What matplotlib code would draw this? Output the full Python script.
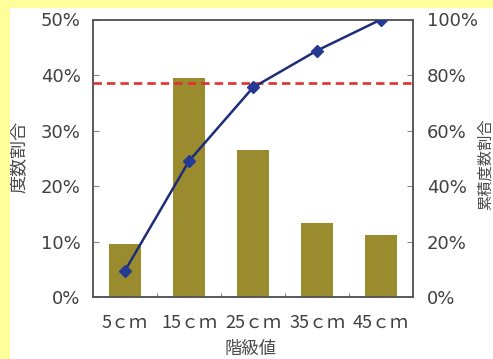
import matplotlib
matplotlib.use("Agg")
import matplotlib.pyplot as plt
from matplotlib.patches import Rectangle
from matplotlib.ticker import FixedLocator
import numpy as np

# class values and relative frequency (%) per class
classes = ["5ｃｍ", "15ｃｍ", "25ｃｍ", "35ｃｍ", "45ｃｍ"]
share = np.array([9.5, 39.5, 26.5, 13.3, 11.2])
threshold = 38.5  # reference level on the left axis (%)

left_ticks = [0, 10, 20, 30, 40, 50]
right_ticks = [0, 20, 40, 60, 80, 100]

BAR = "#9a8c2e"
LINE = "#1f2d78"
MARK = "#253a92"
RED = "#e0302f"
TXT = "#404040"
SPINE = "#555555"
JP = ["Noto Sans CJK JP", "DejaVu Sans"]

cum = np.cumsum(share)
x = np.arange(len(classes))

fig = plt.figure(figsize=(4.93, 3.59), dpi=100)
fig.patch.set_facecolor("white")
# yellow strips along the left and top edge
fig.patches.append(Rectangle((0, 0), 10 / 493, 1, transform=fig.transFigure,
                             facecolor="#ffff9c", edgecolor="none", zorder=0))
fig.patches.append(Rectangle((0, 1 - 8 / 359), 1, 8 / 359, transform=fig.transFigure,
                             facecolor="#ffff9c", edgecolor="none", zorder=0))

ax = fig.add_axes([93 / 493, 1 - 297 / 359, 320 / 493, 277.5 / 359])
ax2 = ax.twinx()

ax.bar(x, share, width=0.49, color=BAR, zorder=2)
ax.axhline(threshold, color=RED, lw=1.9, linestyle=(0, (3.2, 1.9)), zorder=3)
ax2.plot(x, cum, color=LINE, lw=1.8, marker="D", markersize=6.5,
         markerfacecolor=MARK, markeredgecolor=MARK, zorder=4)

ax.set_xlim(-0.5, len(classes) - 0.5)
ax.set_ylim(0, 50)
ax2.set_ylim(0, 100)

ax.set_yticks(left_ticks)
ax.set_yticklabels([f"{t}%" for t in left_ticks])
ax2.set_yticks(right_ticks)
ax2.set_yticklabels([f"{t}%" for t in right_ticks])

ax.set_xticks(x)
ax.set_xticklabels(classes, fontfamily=JP)
ax.xaxis.set_minor_locator(FixedLocator(np.arange(0.5, len(classes) - 1, 1.0)))

for a in (ax, ax2):
    for s in a.spines.values():
        s.set_color(SPINE)
        s.set_linewidth(1.1)

ax.tick_params(axis="y", direction="in", length=4, width=0.8, color="#888888",
               labelsize=13, labelcolor=TXT, pad=9)
ax2.tick_params(axis="y", direction="in", length=4, width=0.8, color="#888888",
                labelsize=13, labelcolor=TXT, pad=10)
ax.tick_params(axis="x", which="major", length=0, labelsize=13, labelcolor=TXT, pad=12)
ax.tick_params(axis="x", which="minor", direction="in", length=3, width=0.8, color="#888888")

ax.set_ylabel("度数割合", fontfamily=JP, fontsize=13, color="#4a4a4a",
              ha="center", va="center")
ax.yaxis.set_label_coords(-0.232, 0.505)
ax2.set_ylabel("累積度数割合", fontfamily=JP, fontsize=11, color="#4a4a4a",
               rotation=90, ha="center", va="center")
ax2.yaxis.set_label_coords(1.225, 0.479)
ax.set_xlabel("階級値", fontfamily=JP, fontsize=12.5, color="#4a4a4a", va="center")
ax.xaxis.set_label_coords(0.494, -0.189)

fig.savefig("out.png", dpi=100, facecolor=fig.get_facecolor())
plt.close(fig)
